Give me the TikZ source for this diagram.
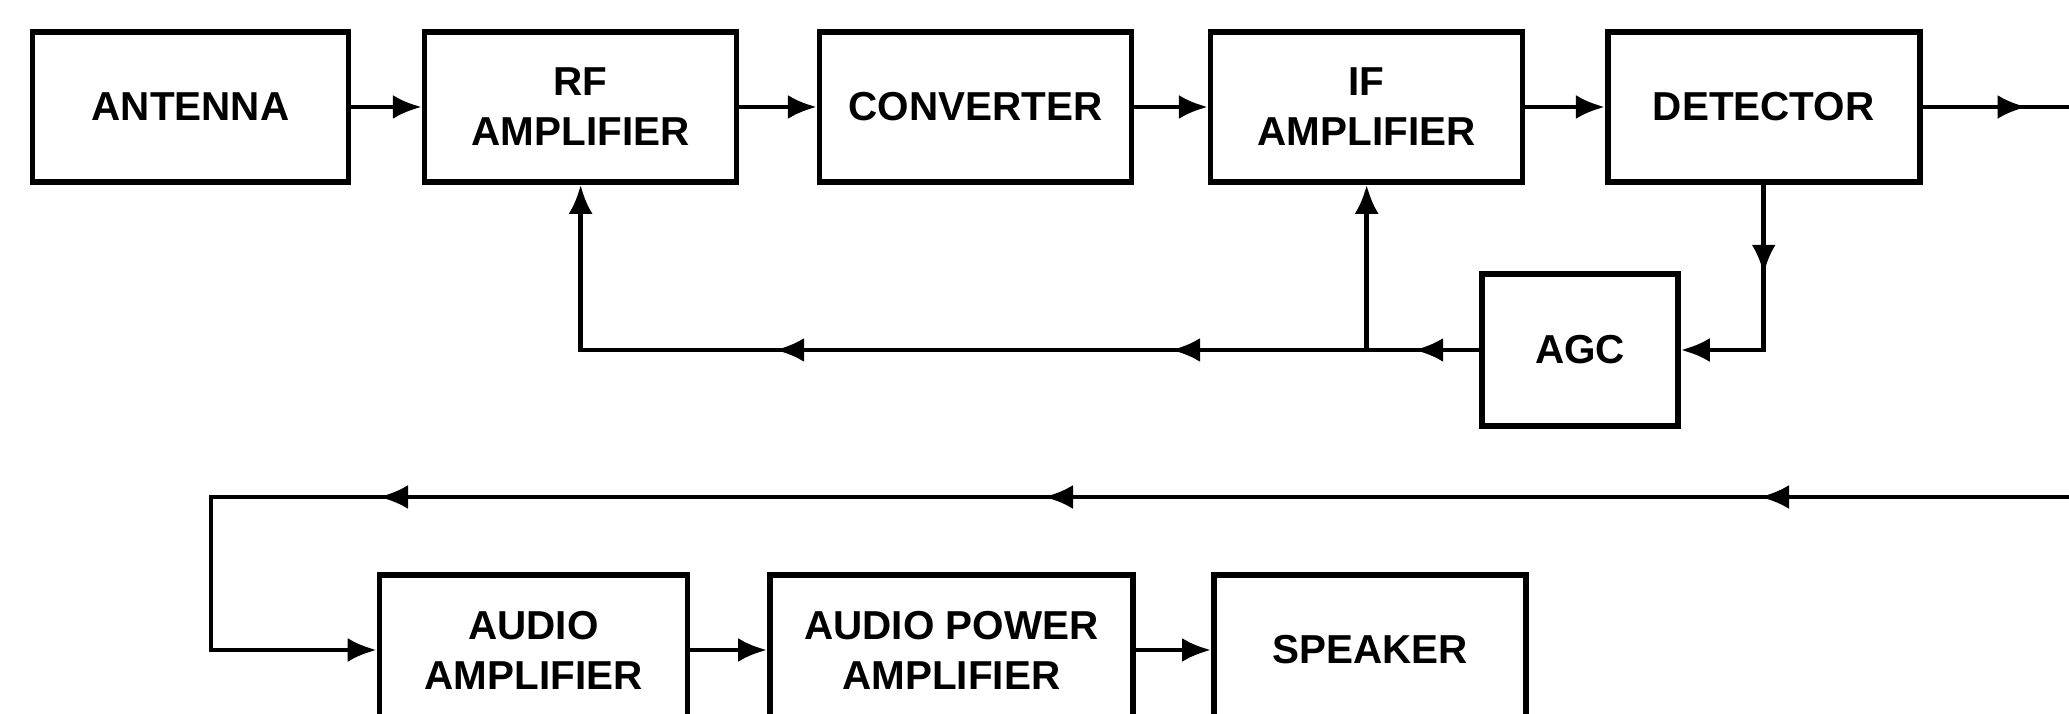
\documentclass[tikz,border=0pt]{standalone}
\usepackage{fontspec}
\setmainfont{Liberation Sans}
\usetikzlibrary{positioning, arrows.meta, calc, decorations.markings}

\tikzset{
  block/.style={draw=black, line width=1.6pt, rectangle, minimum width=3.12cm, minimum height=1.50cm, align=center, font=\bfseries\fontsize{11.5}{14.2}\selectfont},
  edge/.style={line width=1.3pt},
  tip/.style={-{Latex[length=0.29cm,width=0.24cm]}},
  arrow at/.style={postaction={decorate, decoration={markings, mark=at position #1 with {\arrow{Latex[length=0.29cm,width=0.24cm]}}}}}
}

\begin{document}
\begin{tikzpicture}
  \useasboundingbox (0,0) rectangle (20.69,-7.14);
  \clip (0,0) rectangle (20.69,-7.14);

  % Blöcke oben
  \node[block, minimum width=3.16cm] (ant) at (1.905,-1.07) {ANTENNA};
  \node[block, right=0.705cm of ant] (rfamp) {RF\\AMPLIFIER};
  \node[block, right=0.774cm of rfamp] (conv) {CONVERTER};
  \node[block, right=0.734cm of conv] (ifamp) {IF\\AMPLIFIER};
  \node[block, right=0.794cm of ifamp] (det) {DETECTOR};
  \node[block, minimum width=1.96cm, minimum height=1.52cm] (agc) at (15.80,-3.50) {AGC};

  % Blöcke unten
  \node[block, minimum width=3.08cm] (audamp) at (5.335,-6.50) {AUDIO\\AMPLIFIER};
  \node[block, minimum width=3.63cm, right=0.767cm of audamp] (powamp) {AUDIO POWER\\AMPLIFIER};
  \node[block, right=0.754cm of powamp] (spk) {SPEAKER};

  \coordinate (edgeR) at (20.75,-4.97);
  \coordinate (turnL) at (2.11,-4.97);

  % Kanten oben
  \draw[edge, tip] (ant) -- (rfamp);
  \draw[edge, tip] (rfamp) -- (conv);
  \draw[edge, tip] (conv) -- (ifamp);
  \draw[edge, tip] (ifamp) -- (det);
  \draw[edge, arrow at=1.04cm] (det.east) -- (det.east -| edgeR);

  % Rueckfuehrung ueber AGC
  \draw[edge, arrow at=0.89cm, tip] (det.south) |- (agc.east);
  \draw[edge, arrow at=0.65cm, arrow at=3.08cm, arrow at=7.04cm, tip] (agc.west) -| (rfamp.south);
  \draw[edge, tip] (agc.west -| ifamp.south) -- (ifamp.south);

  % Kanten unten
  \draw[edge, arrow at=3.15cm, arrow at=10.31cm, arrow at=16.96cm, tip] (edgeR) -- (turnL) |- (audamp.west);
  \draw[edge, tip] (audamp) -- (powamp);
  \draw[edge, tip] (powamp) -- (spk);
\end{tikzpicture}
\end{document}
